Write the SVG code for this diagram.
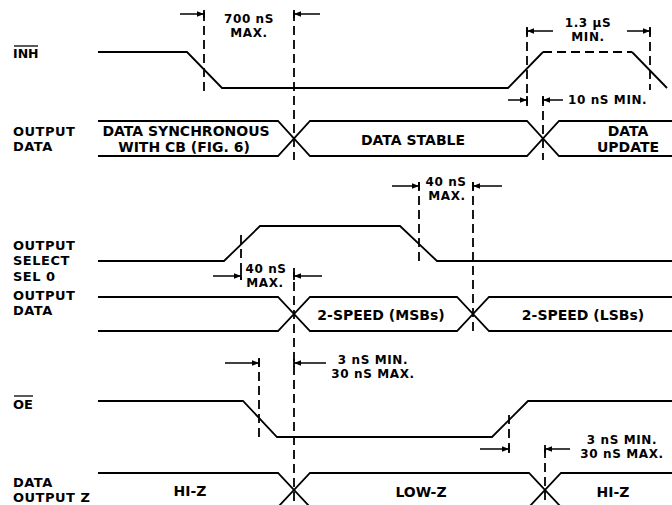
<svg xmlns="http://www.w3.org/2000/svg" width="672" height="505" viewBox="0 0 672 505">
<defs>
<style>
text{font-family:"DejaVu Sans","Liberation Sans",Arial,sans-serif;font-weight:bold;font-size:13px;letter-spacing:0.5px;fill:#000}
.m{text-anchor:middle}
.t{font-size:14px;letter-spacing:0}
.s{font-size:12px;letter-spacing:0.6px}
.w{fill:none;stroke:#000;stroke-width:1.8;stroke-linejoin:miter}
.d{fill:none;stroke:#000;stroke-width:1.8;stroke-dasharray:9,5}
.a{stroke:#000;stroke-width:1.5;marker-end:url(#ah)}
.b{stroke:#000;stroke-width:1.8}
.o{stroke:#000;stroke-width:1.3}
</style>
<marker id="ah" viewBox="0 0 10 8" refX="10" refY="4" markerWidth="7" markerHeight="5.6" markerUnits="userSpaceOnUse" orient="auto">
<path d="M0,0 L10,4 L0,8 Z" fill="#000"/>
</marker>
</defs>
<rect width="672" height="505" fill="#fff"/>

<g id="labels">
<g id="lbl-inh"><text x="13" y="58" style="font-size:12.5px;letter-spacing:0">INH</text><line class="o" x1="14" y1="46" x2="38" y2="46"/></g>
<g id="lbl-data1"><text x="13" y="136">OUTPUT<tspan x="13" dy="15.3">DATA</tspan></text></g>
<g id="lbl-sel"><text x="13" y="250">OUTPUT<tspan x="13" dy="15.3">SELECT</tspan><tspan x="13" dy="15.3">SEL 0</tspan></text></g>
<g id="lbl-data2"><text x="13" y="300">OUTPUT<tspan x="13" dy="15.3">DATA</tspan></text></g>
<g id="lbl-oe"><text x="13" y="409" style="letter-spacing:0">OE</text><line class="o" x1="14" y1="396" x2="33" y2="396"/></g>
<g id="lbl-z"><text x="13" y="487">DATA<tspan x="13" dy="15.3">OUTPUT Z</tspan></text></g>
</g>

<g id="waveforms">
<polyline class="w" points="98,52 187,52 222,88 508,88 543,52"/>
<polyline class="d" points="543,52 632,52"/>
<polyline class="w" points="632,52 667,88"/>
<path class="w" d="M98,121 H278 L310,156 H527 L559,121 H672 M98,156 H278 L310,121 H527 L559,156 H672"/>
<polyline class="w" points="98,261 224,261 260,226 400,226 437,261 672,261"/>
<path class="w" d="M98,297 H278 L310,331 H457 L489,297 H672 M98,331 H278 L310,297 H457 L489,331 H672"/>
<polyline class="w" points="98,401 243,401 277,437 492,437 528,401 672,401"/>
<path class="w" d="M98,473 H278 L310,507 H529 L561,473 H672 M98,507 H278 L310,473 H529 L561,507 H672"/>
</g>

<g id="state-text">
<text class="m t" x="186" y="135.5">DATA SYNCHRONOUS<tspan x="184" dy="16.4">WITH CB (FIG. 6)</tspan></text>
<text class="m t" x="413" y="145">DATA STABLE</text>
<text class="m t" x="628" y="135.5">DATA<tspan x="628" dy="16.4">UPDATE</tspan></text>
<text class="m t" x="381" y="320">2-SPEED (MSBs)</text>
<text class="m t" x="583" y="320">2-SPEED (LSBs)</text>
<text class="m t" x="190" y="496">HI-Z</text>
<text class="m t" x="421" y="497">LOW-Z</text>
<text class="m t" x="613" y="497">HI-Z</text>
</g>

<g id="connectors">
<line class="d" x1="204" y1="12" x2="204" y2="92"/>
<line class="d" x1="294" y1="12" x2="294" y2="160"/>
<line class="d" x1="527" y1="28" x2="527" y2="106"/>
<line class="d" x1="650" y1="28" x2="650" y2="90"/>
<line class="d" x1="543" y1="97" x2="543" y2="160"/>
<line class="d" x1="419" y1="182" x2="419" y2="262"/>
<line class="d" x1="473" y1="182" x2="473" y2="336"/>
<line class="d" x1="241" y1="235" x2="241" y2="280"/>
<line class="d" x1="294" y1="268" x2="294" y2="505"/>
<line class="d" x1="259" y1="358" x2="259" y2="438"/>
<line class="d" x1="509" y1="415" x2="509" y2="455"/>
<line class="d" x1="545" y1="449" x2="545" y2="505"/>

<line class="a" x1="180" y1="14" x2="204" y2="14"/><line class="b" x1="204" y1="10" x2="204" y2="18"/>
<line class="a" x1="320" y1="14" x2="294" y2="14"/><line class="b" x1="294" y1="10" x2="294" y2="18"/>
<line class="a" x1="553" y1="31" x2="527" y2="31"/><line class="b" x1="527" y1="27" x2="527" y2="35"/>
<line class="a" x1="627" y1="31" x2="650" y2="31"/><line class="b" x1="650" y1="27" x2="650" y2="35"/>
<line class="a" x1="508" y1="100" x2="527" y2="100"/><line class="b" x1="527" y1="96" x2="527" y2="104"/>
<line class="a" x1="563" y1="100" x2="543" y2="100"/><line class="b" x1="543" y1="96" x2="543" y2="104"/>
<line class="a" x1="392" y1="186" x2="419" y2="186"/><line class="b" x1="419" y1="182" x2="419" y2="190"/>
<line class="a" x1="502" y1="186" x2="473" y2="186"/><line class="b" x1="473" y1="182" x2="473" y2="190"/>
<line class="a" x1="213" y1="276" x2="241" y2="276"/><line class="b" x1="241" y1="272" x2="241" y2="280"/>
<line class="a" x1="322" y1="276" x2="294" y2="276"/><line class="b" x1="294" y1="272" x2="294" y2="280"/>
<line class="a" x1="225" y1="363" x2="259" y2="363"/><line class="b" x1="259" y1="359" x2="259" y2="367"/>
<line class="a" x1="326" y1="363" x2="294" y2="363"/><line class="b" x1="294" y1="359" x2="294" y2="367"/>
<line class="a" x1="480" y1="449" x2="509" y2="449"/><line class="b" x1="509" y1="445" x2="509" y2="453"/>
<line class="a" x1="570" y1="449" x2="545" y2="449"/><line class="b" x1="545" y1="445" x2="545" y2="453"/>
</g>

<g id="timing-labels">
<text class="m s" x="249" y="23">700 nS<tspan x="249" dy="14.2">MAX.</tspan></text>
<text class="m s" x="588" y="27">1.3 µS<tspan x="588" dy="14.2">MIN.</tspan></text>
<text class="s" x="568" y="104">10 nS MIN.</text>
<text class="m s" x="446" y="186">40 nS<tspan x="447" dy="14.2">MAX.</tspan></text>
<text class="m s" x="266" y="273">40 nS<tspan x="265" dy="14.2">MAX.</tspan></text>
<text class="m s" x="373" y="364">3 nS MIN.<tspan x="373" dy="14.2">30 nS MAX.</tspan></text>
<text class="m s" x="622" y="444">3 nS MIN.<tspan x="622" dy="14.2">30 nS MAX.</tspan></text>
</g>
</svg>
